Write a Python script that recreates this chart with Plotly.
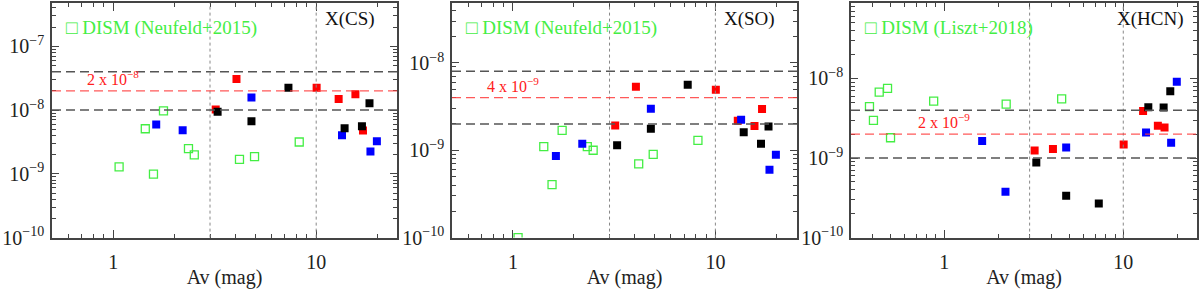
import math
import plotly.graph_objects as go

# ---------------- data ----------------
# x positions (Av, mag) shared by the coloured source groups
blue_av = [1.63, 2.2, 4.8, 13.4, 18.5, 19.9]
red_av = [3.2, 4.05, 10.05, 12.9, 15.6, 17.0]
black_av = [3.27, 4.8, 7.3, 13.8, 16.8, 18.3]

# Panel 1: X(CS)
cs_dism_av = [1.07, 1.44, 1.58, 1.77, 2.35, 2.51, 4.19, 4.97, 8.25]
cs_dism = [1.29e-9, 5.1e-9, 9.9e-10, 9.7e-9, 2.48e-9, 1.99e-9, 1.69e-9, 1.87e-9, 3.16e-9]
cs_blue = [5.93e-9, 4.85e-9, 1.57e-8, 4.03e-9, 2.25e-9, 3.24e-9]
cs_red = [1.02e-8, 3.08e-8, 2.25e-8, 1.49e-8, 1.78e-8, 4.8e-9]
cs_black = [9.4e-9, 6.7e-9, 2.25e-8, 5.2e-9, 5.6e-9, 1.28e-8]

# Panel 2: X(SO)
so_dism_av = [1.06, 1.42, 1.56, 1.75, 2.33, 2.49, 4.18, 4.93, 8.2]
so_dism = [1.0e-10, 1.1e-9, 4.04e-10, 1.69e-9, 1.1e-9, 1.0e-9, 7.0e-10, 8.97e-10, 1.3e-9]
so_blue = [8.6e-10, 1.19e-9, 2.98e-9, 2.24e-9, 6.0e-10, 8.87e-10]
so_red = [1.92e-9, 5.34e-9, 4.92e-9, 2.18e-9, 1.89e-9, 2.96e-9]
so_black = [1.14e-9, 1.76e-9, 5.62e-9, 1.61e-9, 1.19e-9, 1.87e-9]

# Panel 3: X(HCN)
hcn_dism_av = [0.383, 0.403, 0.434, 0.483, 0.502, 0.874, 2.22, 4.53]
hcn_dism = [4.44e-9, 2.98e-9, 6.72e-9, 7.5e-9, 1.8e-9, 5.18e-9, 4.77e-9, 5.55e-9]
hcn_blue = [1.64e-9, 3.78e-10, 1.36e-9, 2.09e-9, 1.56e-9, 9.12e-9]
hcn_red = [1.24e-9, 1.30e-9, 1.48e-9, 3.9e-9, 2.54e-9, 2.42e-9]
hcn_black = [8.77e-10, 3.36e-10, 2.69e-10, 4.36e-9, 4.32e-9, 6.89e-9]

# reference abundances (red) and factor-2 bounds (black dashed)
ref_values = [2e-8, 4e-9, 2e-9]
ref_labels = ["2 x 10<sup>−8</sup>", "4 x 10<sup>−9</sup>", "2 x 10<sup>−9</sup>"]
bound_values = [[1e-8, 4e-8], [2e-9, 8e-9], [1e-9, 4e-9]]
vlines_av = [3, 10]

titles = ["X(CS)", "X(SO)", "X(HCN)"]
dism_labels = ["DISM (Neufeld+2015)", "DISM (Neufeld+2015)", "DISM (Liszt+2018)"]

y_tickvals = [[1e-7, 1e-8, 1e-9, 1e-10], [1e-8, 1e-9, 1e-10], [1e-8, 1e-9, 1e-10]]
y_ticktext = [["10<sup>−7</sup>", "10<sup>−8</sup>", "10<sup>−9</sup>", "10<sup>−10</sup>"],
              ["10<sup>−8</sup>", "10<sup>−9</sup>", "10<sup>−10</sup>"],
              ["10<sup>−8</sup>", "10<sup>−9</sup>", "10<sup>−10</sup>"]]
x_tickvals = [1, 10]
x_ticktext = ["1", "10"]

# ---------------- layout ----------------
W, H = 1200, 289
x_dom_px = [(52, 397), (452, 797), (851, 1197)]
y_dom_px = (3, 247)
x_ranges = [(0.5, 25.0), (0.5, 25.3), (0.302, 25.8)]
y_ranges = [(-10, -6.318), (-10, -7.313), (-10, -7.05)]
title_xfrac = [0.786, 0.783, 0.763]

FONT = "'Liberation Serif', 'DejaVu Serif', 'Times New Roman', serif"
GREEN = "#44ee44"
AX = "#444444"

panels = [
    (cs_dism_av, cs_dism, cs_red, cs_blue, cs_black),
    (so_dism_av, so_dism, so_red, so_blue, so_black),
    (hcn_dism_av, hcn_dism, hcn_red, hcn_blue, hcn_black),
]

fig = go.Figure()
shapes = []
annotations = []


def minor_vals(lo, hi):
    vals = []
    for e in range(math.floor(math.log10(lo)) - 1, math.ceil(math.log10(hi)) + 1):
        for m in range(2, 10):
            v = m * 10 ** e
            if lo <= v <= hi:
                vals.append(v)
    return vals


for i, (dav, dval, rv, bv, kv) in enumerate(panels):
    sfx = "" if i == 0 else str(i + 1)
    xref, yref = "x" + sfx, "y" + sfx
    mk = dict(symbol="square", size=8, line=dict(width=0))
    fig.add_trace(go.Scatter(x=dav, y=dval, mode="markers", xaxis=xref, yaxis=yref,
                             marker=dict(symbol="square-open", size=8, color=GREEN,
                                         line=dict(width=1.3, color=GREEN)),
                             showlegend=False, hoverinfo="skip"))
    fig.add_trace(go.Scatter(x=red_av, y=rv, mode="markers", xaxis=xref, yaxis=yref,
                             marker=dict(mk, color="#ff0000"), showlegend=False, hoverinfo="skip"))
    fig.add_trace(go.Scatter(x=blue_av, y=bv, mode="markers", xaxis=xref, yaxis=yref,
                             marker=dict(mk, color="#0000ff"), showlegend=False, hoverinfo="skip"))
    fig.add_trace(go.Scatter(x=black_av, y=kv, mode="markers", xaxis=xref, yaxis=yref,
                             marker=dict(mk, color="#000000"), showlegend=False, hoverinfo="skip"))

    x0p, x1p = x_dom_px[i]
    xdom = [x0p / W, x1p / W]
    ydom = [1 - y_dom_px[1] / H, 1 - y_dom_px[0] / H]
    xlo, xhi = x_ranges[i]
    ylo, yhi = y_ranges[i]

    axis_common = dict(showline=True, linecolor=AX, linewidth=1.5, mirror="ticks",
                       ticks="inside", tickcolor=AX, tickwidth=1, showgrid=False,
                       zeroline=False, tickfont=dict(family=FONT, size=20, color="#222222"))
    fig.layout["xaxis" + sfx] = dict(
        axis_common, type="log", domain=xdom, anchor=yref,
        range=[math.log10(xlo), math.log10(xhi)],
        tickmode="array", tickvals=x_tickvals, ticktext=x_ticktext, ticklen=8,
        ticklabelstandoff=6,
        minor=dict(tickmode="array", tickvals=minor_vals(xlo, xhi), ticks="inside",
                   ticklen=4, tickcolor=AX, showgrid=False),
        title=dict(text="Av (mag)", font=dict(family=FONT, size=20, color="#222222"),
                   standoff=0),
    )
    fig.layout["yaxis" + sfx] = dict(
        axis_common, type="log", domain=ydom, anchor=xref,
        range=[ylo, yhi],
        tickmode="array", tickvals=y_tickvals[i], ticktext=y_ticktext[i], ticklen=7,
        ticklabelstandoff=2,
        minor=dict(tickmode="array", tickvals=minor_vals(10 ** ylo, 10 ** yhi), ticks="inside",
                   ticklen=4, tickcolor=AX, showgrid=False),
    )

    # vertical dotted lines
    for v in vlines_av:
        shapes.append(dict(type="line", xref=xref, yref=yref + " domain", x0=v, x1=v, y0=0, y1=1,
                           line=dict(color="#888888", width=1, dash="dot")))
    # black dashed bounds
    for b in bound_values[i]:
        shapes.append(dict(type="line", xref=xref + " domain", yref=yref, x0=0, x1=1, y0=b, y1=b,
                           line=dict(color="#555555", width=1.5, dash="9px,5px")))
    # red reference
    shapes.append(dict(type="line", xref=xref + " domain", yref=yref, x0=0, x1=1,
                       y0=ref_values[i], y1=ref_values[i],
                       line=dict(color="rgba(255,60,60,0.85)", width=1.3, dash="9px,5px")))
    annotations.append(dict(xref=xref, yref=yref, x=0, y=math.log10(ref_values[i]),
                            text=ref_labels[i], showarrow=False, yanchor="bottom", yshift=1,
                            font=dict(family=FONT, size=16, color="#ff2020")))
    annotations.append(dict(xref=xref + " domain", yref=yref + " domain", x=title_xfrac[i], y=0.93,
                            xanchor="left", yanchor="middle", text=titles[i], showarrow=False,
                            font=dict(family=FONT, size=19, color="#111111")))
    annotations.append(dict(xref=xref + " domain", yref=yref + " domain", x=0.035, y=0.895,
                            xanchor="left", yanchor="middle", text="□ " + dism_labels[i],
                            showarrow=False, font=dict(family=FONT, size=19, color=GREEN)))

fig.update_layout(width=W, height=H, margin=dict(l=0, r=0, t=0, b=0),
                  paper_bgcolor="white", plot_bgcolor="white",
                  shapes=shapes, annotations=annotations, showlegend=False)

fig.write_html("out.html", config={"displayModeBar": False},
               post_script="document.body.style.margin='0';document.body.style.padding='0';")
